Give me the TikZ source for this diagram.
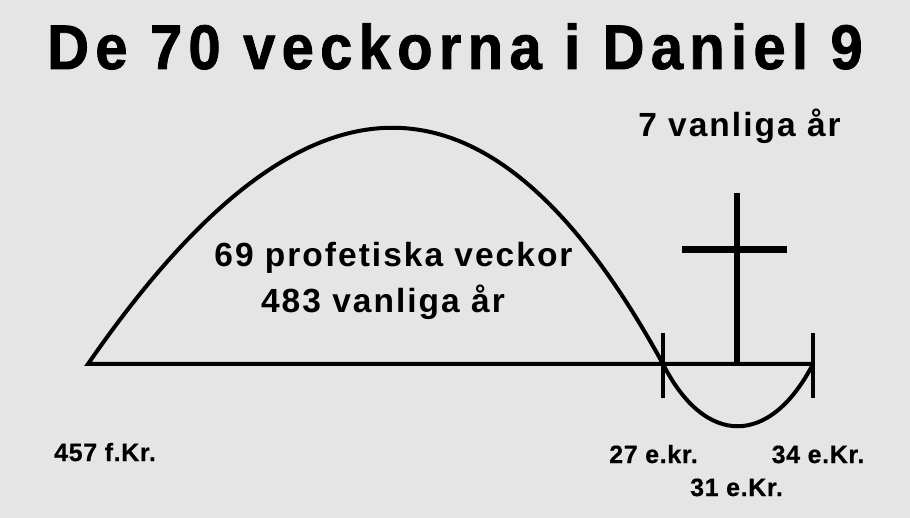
\documentclass[tikz,border=0pt]{standalone}
\usepackage{fontspec}
\setmainfont{Liberation Sans}
\newfontfamily\titlefont[LetterSpace=10,FakeStretch=0.92,FakeBold=1.3]{Liberation Sans}
\newfontfamily\labfont[LetterSpace=6]{Liberation Sans}
\newfontfamily\datefont[LetterSpace=2.5,FakeBold=0.6]{Liberation Sans}
\definecolor{bg}{RGB}{229,229,229}
\begin{document}
\begin{tikzpicture}[x=1pt,y=-1pt,
  thick line/.style={line width=4pt,black},
  crossbar/.style={line width=6.5pt,black},
  titletext/.style={inner sep=0pt,anchor=base,font=\titlefont\bfseries\fontsize{63}{70}\selectfont},
  labtext/.style={inner sep=0pt,anchor=base,font=\labfont\bfseries\fontsize{33.5}{40}\selectfont},
  datetext/.style={inner sep=0pt,anchor=base,font=\datefont\bfseries\fontsize{25}{30}\selectfont}]
\fill[bg] (0,0) rectangle (910,518);
\useasboundingbox (0,0) rectangle (910,518);
% coordinates
\coordinate (start) at (88,364);
\coordinate (t27) at (663,364);
\coordinate (t31) at (737,364);
\coordinate (t34) at (813,364);
\coordinate (t27top) at (663,333);
\coordinate (t27bot) at (663,398);
\coordinate (t34top) at (813,333);
\coordinate (t34bot) at (813,398);
\coordinate (crosstop) at (737,193);
\coordinate (armL) at (682,249.5);
\coordinate (armR) at (787,249.5);
% baseline and curve
\draw[thick line,line join=miter] (t34) -- (start)
  .. controls (305,50) and (490,48) .. (t27)
  .. controls (705,447) and (770,447) .. (t34);
% ticks
\draw[thick line] (t27top) -- (t27bot);
\draw[thick line] (t34top) -- (t34bot);
% cross
\draw[crossbar,line width=6pt] (crosstop) -- (t31);
\draw[crossbar,line width=7pt] (armL) -- (armR);
% texts
\node[titletext] (title) at (455,69) {De 70 veckorna i Daniel 9};
\node[labtext] (seven) at (739.5,137) {7 vanliga år};
\node[labtext] (weeks) at (393.5,267) {69 profetiska veckor};
\node[labtext] (years) at (383,313) {483 vanliga år};
\node[datetext] (d457) at (105,461) {457 f.Kr.};
\node[datetext] (d27) at (653.5,463) {27 e.kr.};
\node[datetext] (d34) at (818,463) {34 e.Kr.};
\node[datetext] (d31) at (736.5,496) {31 e.Kr.};
\end{tikzpicture}
\end{document}
